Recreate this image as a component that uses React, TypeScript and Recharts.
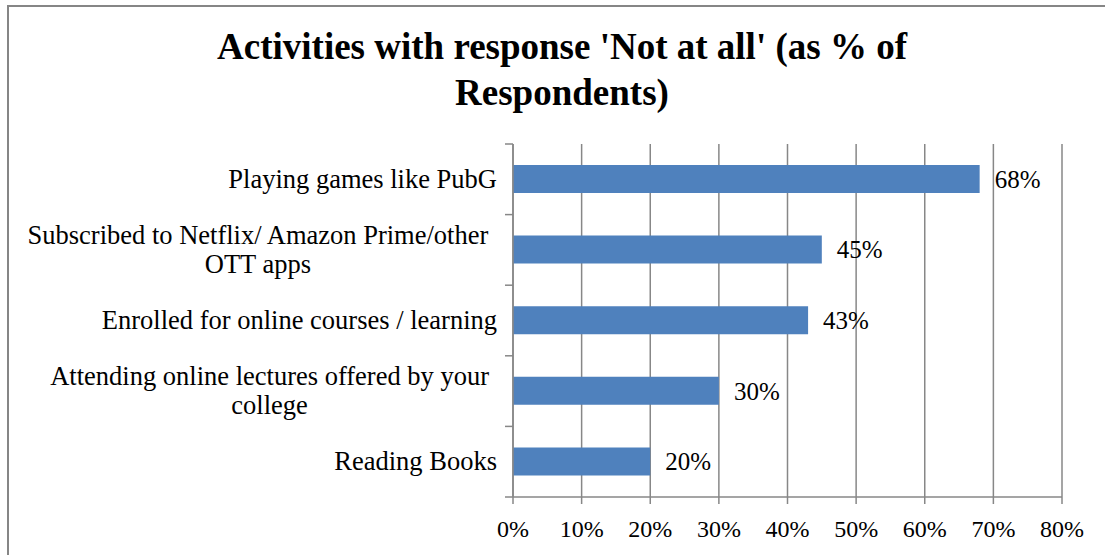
import React from "react";
import { BarChart, Bar, XAxis, YAxis, CartesianGrid, LabelList } from "recharts";

const activities = [
  "Playing games like PubG",
  "Subscribed to Netflix/ Amazon Prime/other OTT apps",
  "Enrolled for online courses / learning",
  "Attending online lectures offered by your college",
  "Reading Books",
];
const notAtAllPct = [68, 45, 43, 30, 20];
const pctTicks = [0, 10, 20, 30, 40, 50, 60, 70, 80];

const data = activities.map((name, i) => ({ name, value: notAtAllPct[i] }));

const FONT = "Liberation Serif";
const GRID = "#878787";

let ctx: CanvasRenderingContext2D | null = null;
function textWidth(s: string, size: number) {
  if (!ctx) ctx = document.createElement("canvas").getContext("2d");
  if (!ctx) return s.length * size * 0.45;
  ctx.font = `${size}px "Liberation Serif"`;
  return ctx.measureText(s).width;
}

// word wrap like Excel category labels
function wrap(s: string, maxChars: number) {
  const lines: string[] = [];
  let cur = "";
  for (const w of s.split(" ")) {
    const next = cur ? cur + " " + w : w;
    if (next.length > maxChars && cur) {
      lines.push(cur);
      cur = w;
    } else cur = next;
  }
  if (cur) lines.push(cur);
  return lines;
}

function CategoryTick(props: any) {
  const { x, y, payload, index } = props;
  const size = 26.5;
  const lineH = 29;
  const half = payload?.offset || 35.3;
  const lines = wrap(String(payload.value), 41);
  const maxW = Math.max(...lines.map((l) => textWidth(l, size)));
  // wrapped labels sit a little further from the axis, as in Excel
  const right = lines.length > 1 ? x - 24 : x - 16;
  const cx = right - maxW / 2;
  const first = y + size * 0.33 - ((lines.length - 1) * lineH) / 2;
  return (
    <g>
      <line x1={x - 8} x2={x} y1={y - half} y2={y - half} stroke={GRID} strokeWidth={1.5} />
      {index === activities.length - 1 && (
        <line x1={x - 8} x2={x} y1={y + half} y2={y + half} stroke={GRID} strokeWidth={1.5} />
      )}
      {lines.map((l, i) => (
        <text
          key={i}
          x={cx}
          y={first + i * lineH}
          textAnchor="middle"
          fontFamily={FONT}
          fontSize={size}
          fill="#000"
        >
          {l}
        </text>
      ))}
    </g>
  );
}

export default function App() {
  return (
    <div
      style={{
        position: "fixed",
        left: 0,
        top: 0,
        width: 1105,
        height: 555,
        overflow: "hidden",
        background: "#fff",
      }}
    >
      <div
        style={{
          position: "absolute",
          left: 7,
          top: 5,
          width: 1120,
          height: 570,
          border: "2px solid #868686",
        }}
      />
      <div
        style={{
          position: "absolute",
          left: 162,
          top: 24,
          width: 800,
          textAlign: "center",
          fontFamily: FONT,
          fontWeight: "bold",
          fontSize: 37,
          lineHeight: "46px",
          color: "#000",
        }}
      >
        Activities with response 'Not at all' (as % of
        <br />
        Respondents)
      </div>
      <div style={{ position: "absolute", left: 0, top: 0 }}>
        <BarChart
          width={1105}
          height={555}
          data={data}
          layout="vertical"
          barSize={28}
          margin={{ top: 144, right: 43, bottom: 8, left: 13 }}
          style={{ fontFamily: FONT }}
        >
          <CartesianGrid horizontal={false} vertical stroke={GRID} strokeWidth={1.5} />
          <XAxis
            type="number"
            domain={[0, 80]}
            ticks={pctTicks}
            interval={0}
            tickFormatter={(v: number) => `${v}%`}
            height={50}
            tickSize={7}
            tickMargin={16}
            axisLine={{ stroke: GRID, strokeWidth: 1.5 }}
            tickLine={{ stroke: GRID, strokeWidth: 1.5 }}
            tick={{ fill: "#000", fontSize: 24, fontFamily: FONT }}
          />
          <YAxis
            type="category"
            dataKey="name"
            width={500}
            tickSize={0}
            tickMargin={0}
            tickLine={false}
            interval={0}
            axisLine={{ stroke: GRID, strokeWidth: 1.5 }}
            tick={<CategoryTick />}
          />
          <Bar dataKey="value" fill="#4F81BD" isAnimationActive={false}>
            <LabelList
              dataKey="value"
              position="right"
              offset={15}
              formatter={(v: any) => `${v}%`}
              fill="#000"
              fontSize={25}
              fontFamily={FONT}
            />
          </Bar>
        </BarChart>
      </div>
    </div>
  );
}
